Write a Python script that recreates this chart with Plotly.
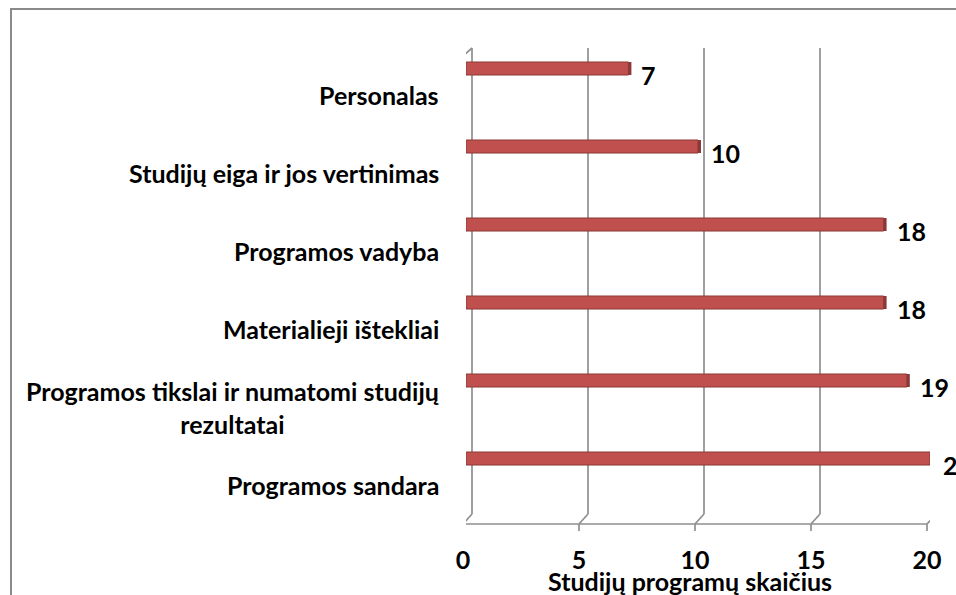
import plotly.graph_objects as go

categories = [
    "Programos sandara",
    "Programos tikslai ir numatomi studijų<br>rezultatai",
    "Materialieji ištekliai",
    "Programos vadyba",
    "Studijų eiga ir jos vertinimas",
    "Personalas",
]
values = [20, 19, 18, 18, 10, 7]
x_ticks = [0, 5, 10, 15, 20]
x_title = "Studijų programų skaičius"

FONT = "Lato"
FS = 25
GRID = "#8f8f8f"
BAR = "#C0504D"
BAR_EDGE = "#8C3836"

W, H = 956, 595
ML, MR, MT, MB = 466, 26, 56, 71
PH = H - MT - MB
PW = W - ML - MR
BAR_OFF, BAR_W = 0.256, 0.167

fig = go.Figure()
fig.add_trace(go.Bar(
    y=categories, x=values, orientation="h",
    offset=BAR_OFF, width=BAR_W,
    marker=dict(color=BAR, line=dict(color=BAR_EDGE, width=1)),
    hoverinfo="skip",
))

shapes = []
line = dict(color=GRID, width=1.7)
# back gridlines with 3D floor diagonals, front ticks
for v in x_ticks:
    shapes.append(dict(type="line", xref="x", yref="paper", xsizemode="pixel", ysizemode="pixel",
                       xanchor=v, yanchor=0, x0=6, x1=6, y0=10, y1=PH + 8, line=line, layer="below"))
    shapes.append(dict(type="line", xref="x", yref="paper", xsizemode="pixel", ysizemode="pixel",
                       xanchor=v, yanchor=0, x0=6, x1=-3, y0=10, y1=0, line=line, layer="below"))
    shapes.append(dict(type="line", xref="x", yref="paper", xsizemode="pixel", ysizemode="pixel",
                       xanchor=v, yanchor=0, x0=-3, x1=-3, y0=0, y1=-7, line=line))
# front bottom axis
shapes.append(dict(type="line", xref="x", yref="paper", xsizemode="pixel", ysizemode="pixel",
                   xanchor=0, yanchor=0, x0=-3, x1=PW - 3, y0=0, y1=0, line=line))
# front left axis and top diagonal
shapes.append(dict(type="line", xref="x", yref="paper", xsizemode="pixel", ysizemode="pixel",
                   xanchor=0, yanchor=0, x0=-3, x1=-3, y0=0, y1=PH, line=line, layer="below"))
shapes.append(dict(type="line", xref="x", yref="paper", xsizemode="pixel", ysizemode="pixel",
                   xanchor=0, yanchor=0, x0=-3, x1=6, y0=PH, y1=PH + 8, line=line, layer="below"))
# left category ticks
for k in range(len(categories) + 1):
    shapes.append(dict(type="line", xref="x", yref="y", xsizemode="pixel",
                       xanchor=0, x0=-9, x1=-3, y0=k - 0.5, y1=k - 0.5, line=line))
# darker 3D end caps of the bars
for k, v in enumerate(values):
    shapes.append(dict(type="rect", xref="x", yref="y", xsizemode="pixel",
                       xanchor=v, x0=0, x1=3, y0=k + BAR_OFF, y1=k + BAR_OFF + BAR_W,
                       line=dict(width=0), fillcolor=BAR_EDGE))
# outer chart border
shapes.append(dict(type="rect", xref="paper", yref="paper",
                   x0=(11 - ML) / PW, x1=(W + 10 - ML) / PW,
                   y0=(MT + PH - (H + 10)) / PH, y1=(MT + PH - 9) / PH,
                   line=dict(color="#8a8a8a", width=2), fillcolor="rgba(0,0,0,0)"))

lab_font = dict(family=FONT, size=FS, color="black", weight=700)
annotations = []
for c in categories:
    annotations.append(dict(x=0, y=c, xref="x", yref="y", text=c, showarrow=False,
                            xanchor="right", yanchor="middle", align="center", xshift=-25,
                            font=lab_font))
for c, v in zip(categories, values):
    annotations.append(dict(x=v, y=c, xref="x", yref="y", text=str(v), showarrow=False,
                            xanchor="left", yanchor="middle", xshift=11, yshift=20,
                            font=lab_font))
annotations.append(dict(x=0.5, y=0, xref="paper", yref="paper", text=x_title, showarrow=False,
                        xanchor="center", yanchor="middle", xshift=-8, yshift=-57,
                        font=lab_font))

fig.update_layout(
    width=W, height=H,
    margin=dict(l=ML, r=MR, t=MT, b=MB),
    paper_bgcolor="white", plot_bgcolor="white",
    showlegend=False,
    shapes=shapes, annotations=annotations,
    xaxis=dict(range=[0, 20], tickvals=x_ticks, showgrid=False, zeroline=False,
               showline=False, ticks="", ticklabelshift=-3, ticklabelstandoff=19,
               tickfont=lab_font),
    yaxis=dict(type="category", categoryarray=categories, range=[-0.5, len(categories) - 0.5],
               showticklabels=False, showgrid=False, zeroline=False, showline=False, ticks=""),
)

fig.write_html("out.html", config={"displayModeBar": False},
               post_script="document.body.style.margin='0';")
